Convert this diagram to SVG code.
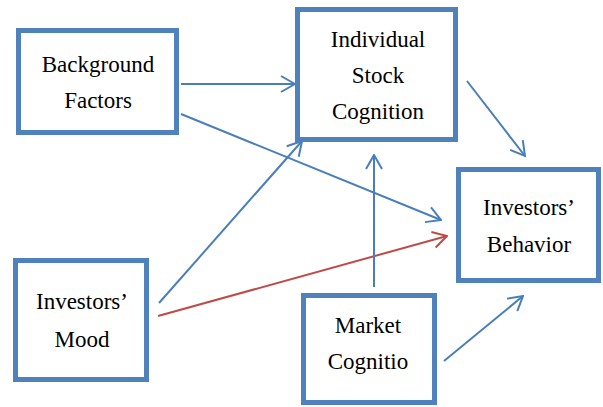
<svg xmlns="http://www.w3.org/2000/svg" width="603" height="407" viewBox="0 0 603 407">
<style>
.box{fill:#fff;stroke:#4F81BD;stroke-width:5}
.lbl{font-family:"Liberation Serif",Tinos,"Times New Roman",Times,"Nimbus Roman","Nimbus Roman No9 L",FreeSerif,"Noto Serif","DejaVu Serif",serif;font-size:23px;fill:#000;text-anchor:middle}
.c{fill:none;stroke-width:2}
.b{stroke:#4A7EBB}
.r{stroke:#BE4B48}
</style>
<defs>
<marker id="ab" markerUnits="userSpaceOnUse" viewBox="0 0 16 18" markerWidth="16" markerHeight="18" refX="15" refY="9" orient="auto">
<path d="M1,1 L15,9 L1,17" fill="none" stroke="#4A7EBB" stroke-width="2"/>
</marker>
<marker id="ar" markerUnits="userSpaceOnUse" viewBox="0 0 16 18" markerWidth="16" markerHeight="18" refX="15" refY="9" orient="auto">
<path d="M1,1 L15,9 L1,17" fill="none" stroke="#BE4B48" stroke-width="2"/>
</marker>
</defs>
<g id="connectors">
<line class="c b" x1="181" y1="84" x2="295" y2="84" marker-end="url(#ab)"/>
<line class="c b" x1="181" y1="114" x2="441" y2="220" marker-end="url(#ab)"/>
<line class="c b" x1="159" y1="303" x2="302" y2="141" marker-end="url(#ab)"/>
<line class="c r" x1="158" y1="316" x2="447" y2="236" marker-end="url(#ar)"/>
<line class="c b" x1="467" y1="81" x2="525" y2="156" marker-end="url(#ab)"/>
<line class="c b" x1="374" y1="287" x2="374" y2="155" marker-end="url(#ab)"/>
<line class="c b" x1="444" y1="361" x2="523" y2="296" marker-end="url(#ab)"/>
</g>
<g id="background-factors">
<rect class="box" x="18.5" y="30.5" width="158" height="102"/>
<text class="lbl" x="98" y="72">Background</text>
<text class="lbl" x="98" y="108">Factors</text>
</g>
<g id="individual-stock-cognition">
<rect class="box" x="297.5" y="9.5" width="158" height="130"/>
<text class="lbl" x="378" y="47">Individual</text>
<text class="lbl" x="378" y="83">Stock</text>
<text class="lbl" x="378" y="119">Cognition</text>
</g>
<g id="investors-behavior">
<rect class="box" x="458.5" y="169.5" width="140" height="111"/>
<text class="lbl" x="529" y="215">Investors’</text>
<text class="lbl" x="529" y="252">Behavior</text>
</g>
<g id="investors-mood">
<rect class="box" x="15.5" y="260.5" width="131" height="119"/>
<text class="lbl" x="82" y="309">Investors’</text>
<text class="lbl" x="82" y="347">Mood</text>
</g>
<g id="market-cognition">
<rect class="box" x="303.5" y="295.5" width="131" height="107"/>
<text class="lbl" x="368" y="333">Market</text>
<text class="lbl" x="368" y="369">Cognitio</text>
</g>
</svg>
